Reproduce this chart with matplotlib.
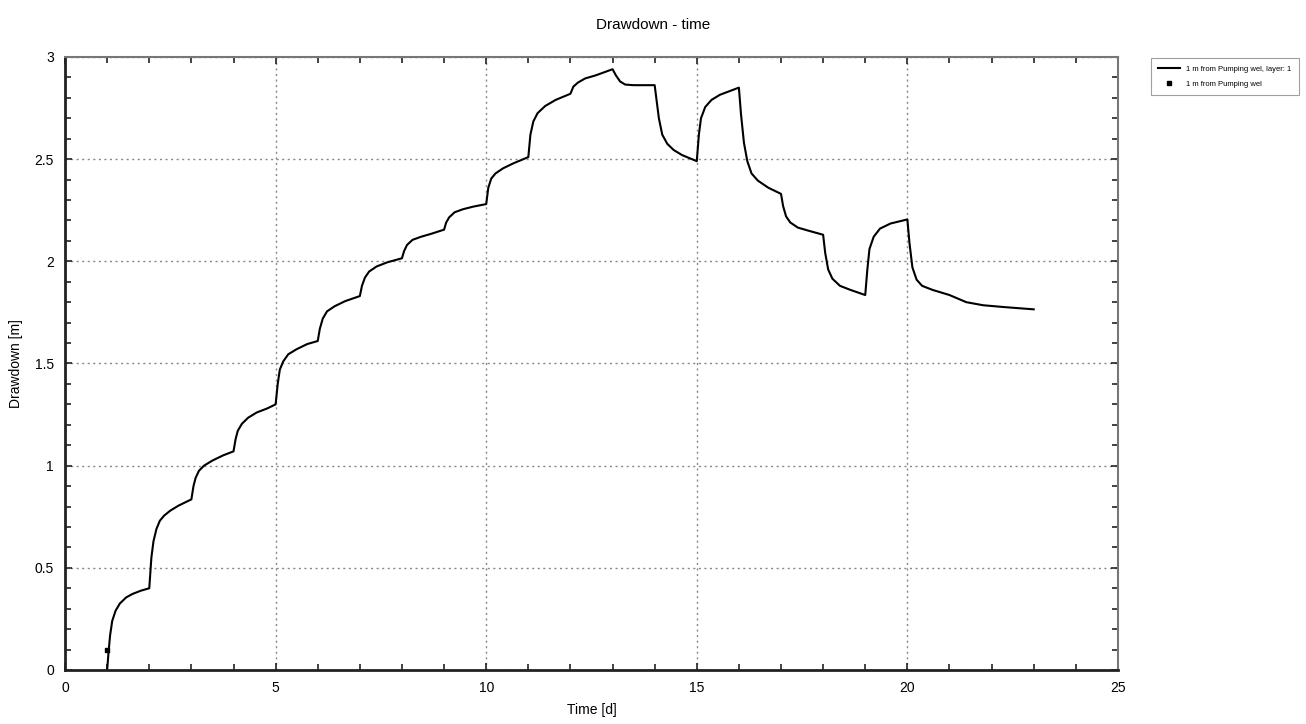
import matplotlib
matplotlib.use("Agg")
import matplotlib.pyplot as plt
from matplotlib.ticker import MultipleLocator

plt.rcParams['font.family'] = ['Liberation Sans', 'DejaVu Sans']

# simulated drawdown (time in days, drawdown in m)
sim_time = [1.0, 1.03, 1.07, 1.12, 1.2, 1.3, 1.45, 1.6, 1.8, 2.0,
            2.05, 2.1, 2.17, 2.25, 2.35, 2.5, 2.7, 3.0,
            3.05, 3.1, 3.18, 3.3, 3.5, 3.75, 4.0,
            4.05, 4.1, 4.2, 4.35, 4.55, 4.8, 5.0,
            5.05, 5.1, 5.18, 5.3, 5.5, 5.75, 6.0,
            6.05, 6.12, 6.22, 6.4, 6.65, 7.0,
            7.05, 7.12, 7.22, 7.4, 7.65, 8.0,
            8.05, 8.12, 8.25, 8.45, 8.7, 9.0,
            9.05, 9.12, 9.25, 9.45, 9.7, 10.0,
            10.05, 10.12, 10.22, 10.4, 10.65, 11.0,
            11.05, 11.12, 11.22, 11.4, 11.65, 12.0,
            12.07, 12.18, 12.35, 12.6, 13.0,
            13.08, 13.18, 13.3, 13.5, 14.0,
            14.05, 14.1, 14.18, 14.3, 14.45, 14.65, 15.0,
            15.05, 15.1, 15.2, 15.35, 15.55, 16.0,
            16.05, 16.12, 16.2, 16.3, 16.45, 16.7, 17.0,
            17.05, 17.12, 17.22, 17.4, 17.65, 18.0,
            18.05, 18.12, 18.22, 18.4, 18.65, 19.0,
            19.05, 19.1, 19.2, 19.35, 19.6, 20.0,
            20.05, 20.12, 20.22, 20.35, 20.6, 21.0, 21.4, 21.8, 22.3, 23.0]
sim_drawdown = [0.0, 0.08, 0.17, 0.24, 0.29, 0.325, 0.355, 0.372, 0.388, 0.40,
                0.55, 0.63, 0.69, 0.73, 0.755, 0.78, 0.805, 0.835,
                0.90, 0.94, 0.975, 1.0, 1.025, 1.05, 1.07,
                1.13, 1.17, 1.205, 1.235, 1.26, 1.28, 1.30,
                1.40, 1.47, 1.51, 1.545, 1.57, 1.595, 1.61,
                1.67, 1.72, 1.755, 1.78, 1.805, 1.83,
                1.88, 1.92, 1.95, 1.975, 1.995, 2.015,
                2.05, 2.08, 2.105, 2.12, 2.135, 2.155,
                2.19, 2.215, 2.24, 2.255, 2.268, 2.28,
                2.36, 2.405, 2.43, 2.455, 2.48, 2.51,
                2.62, 2.685, 2.725, 2.76, 2.79, 2.82,
                2.855, 2.875, 2.895, 2.91, 2.94,
                2.91, 2.88, 2.865, 2.862, 2.862,
                2.78, 2.70, 2.62, 2.575, 2.545, 2.52, 2.49,
                2.62, 2.70, 2.755, 2.79, 2.815, 2.85,
                2.72, 2.58, 2.49, 2.43, 2.395, 2.36, 2.33,
                2.27, 2.22, 2.19, 2.165, 2.15, 2.13,
                2.04, 1.96, 1.915, 1.88, 1.86, 1.835,
                1.96, 2.06, 2.12, 2.16, 2.185, 2.205,
                2.09, 1.97, 1.91, 1.88, 1.86, 1.835, 1.80, 1.785, 1.776, 1.765]

# observed drawdown
obs_time = [0.99]
obs_drawdown = [0.10]

fig = plt.figure(figsize=(13.06, 7.24), dpi=100)
ax = fig.add_axes([0.0498, 0.0746, 0.8062, 0.8467])

line, = ax.plot(sim_time, sim_drawdown, color='black', linewidth=1.5,
                label='1 m from Pumping wel, layer: 1')
pts, = ax.plot(obs_time, obs_drawdown, linestyle='none', marker='s',
               markersize=3.5, color='black', label='1 m from Pumping wel')

ax.set_xlim(0, 25)
ax.set_ylim(0, 3)
ax.xaxis.set_major_locator(MultipleLocator(5))
ax.xaxis.set_minor_locator(MultipleLocator(1))
ax.yaxis.set_major_locator(MultipleLocator(0.5))
ax.yaxis.set_minor_locator(MultipleLocator(0.1))
ax.set_yticks([0, 0.5, 1, 1.5, 2, 2.5, 3])
ax.set_yticklabels(['0', '0.5', '1', '1.5', '2', '2.5', '3'])
ax.tick_params(which='both', direction='in', top=True, right=True,
               labelsize=10, pad=8, color='#222222')
ax.tick_params(which='major', length=5, width=1.2)
ax.tick_params(which='minor', length=4, width=1.2)
ax.grid(which='major', linestyle=(0, (1.5, 2.5)), color='#888888', linewidth=1)

for side in ['left', 'bottom']:
    ax.spines[side].set_linewidth(2)
    ax.spines[side].set_color('#222222')
for side in ['top', 'right']:
    ax.spines[side].set_linewidth(1.5)
    ax.spines[side].set_color('#777777')

ax.set_xlabel('Time [d]', fontsize=10, labelpad=6)
ax.set_ylabel('Drawdown [m]', fontsize=10, labelpad=8)
fig.suptitle('Drawdown - time', fontsize=11, y=0.975)

leg = fig.legend(handles=[line, pts], loc='upper left',
                 bbox_to_anchor=(1147 / 1306, 1 - 54 / 724),
                 fontsize=5.5, frameon=True, fancybox=False,
                 edgecolor='#888888', handlelength=2.8, borderpad=1.0,
                 labelspacing=1.0)
leg.get_frame().set_linewidth(0.8)

fig.savefig('out.png', dpi=100)
